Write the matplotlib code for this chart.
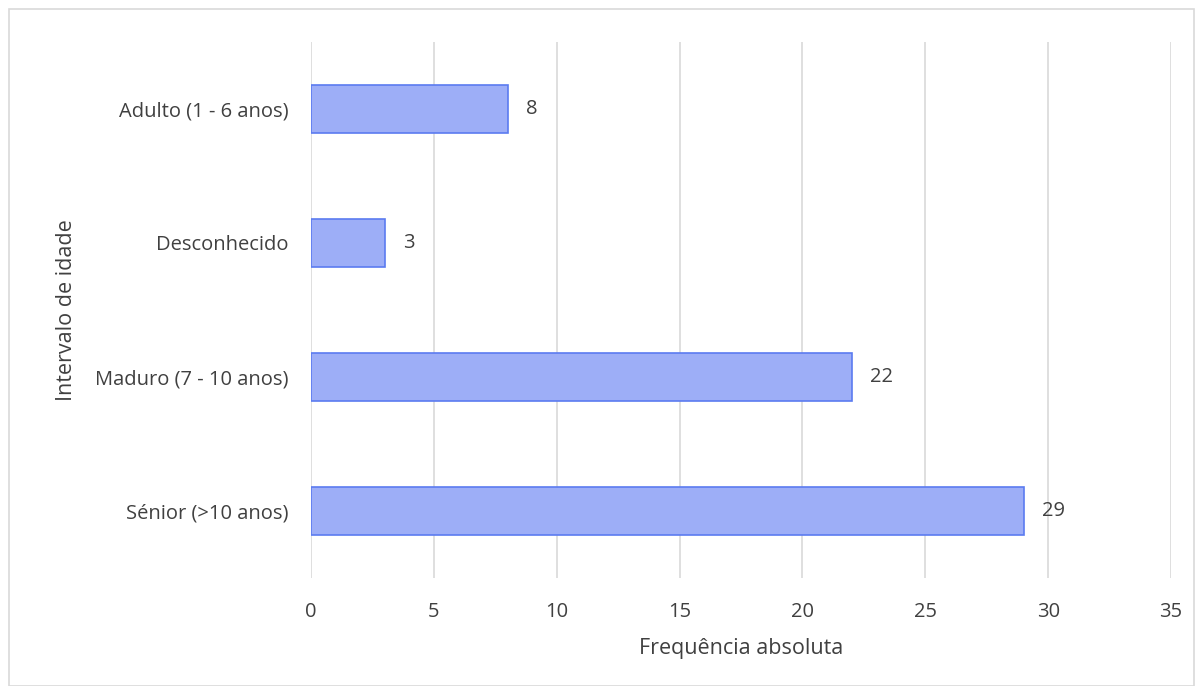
import matplotlib
matplotlib.use('Agg')
import matplotlib.pyplot as plt
import matplotlib.patches as mpatches

# ── Data ──────────────────────────────────────────────────────────────────────
categories = ["Sénior (>10 anos)", "Maduro (7 - 10 anos)", "Desconhecido", "Adulto (1 - 6 anos)"]
counts = [29, 22, 3, 8]
xticks = [0, 5, 10, 15, 20, 25, 30, 35]

FILL = "#9DAEF7"
EDGE = "#5B7BF0"
TXT = "#404040"
GRID = "#D9D9D9"

plt.rcParams['font.family'] = ['Open Sans', 'DejaVu Sans']

fig = plt.figure(figsize=(12.03, 6.86), dpi=100, facecolor="white")
ax = fig.add_axes([311/1203, 1 - 578/686, (1171 - 311)/1203, (578 - 42)/686])

ypos = list(range(len(categories)))
ax.barh(ypos, counts, height=0.36, color=FILL, edgecolor=EDGE, linewidth=1.2, zorder=3)

for y, v in zip(ypos, counts):
    ax.text(v + 0.75, y, str(v), va="center", ha="left", fontsize=14.5, color=TXT)

ax.set_xlim(0, 35)
ax.set_ylim(-0.5, len(categories) - 0.5)
ax.set_xticks(xticks)
ax.set_yticks(ypos)
ax.set_yticklabels(categories)
ax.tick_params(axis="both", length=0, labelsize=14.5, labelcolor=TXT)
ax.tick_params(axis="x", pad=17)
ax.tick_params(axis="y", pad=16)
ax.xaxis.grid(True, color=GRID, linewidth=1.2, zorder=0)
for s in ax.spines.values():
    s.set_visible(False)

ax.set_xlabel("Frequência absoluta", fontsize=15.5, color=TXT, labelpad=12)
ax.set_ylabel("Intervalo de idade", fontsize=15.5, color=TXT, labelpad=13)

# light frame around the chart area
fig.patches.append(mpatches.Rectangle((9/1203, 0), 1185/1203, 1 - 9/686,
                                      transform=fig.transFigure, fill=False,
                                      edgecolor=GRID, linewidth=1.2))

fig.savefig("out.png", dpi=100, facecolor="white")
